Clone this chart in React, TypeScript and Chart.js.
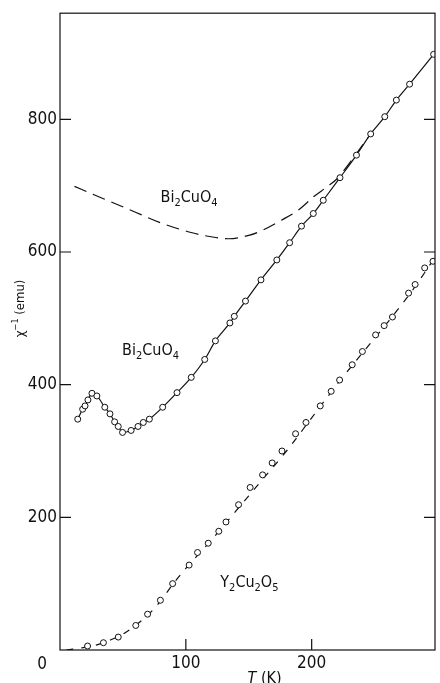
import React, { useEffect, useRef } from 'react';
import { Chart, registerables } from 'chart.js';

Chart.register(...registerables);

const FONT = '"DejaVu Sans Condensed", "Liberation Sans Narrow", "DejaVu Sans", sans-serif';

// Bi2CuO4 measured points (solid fit through them)
const biT = [14.1, 18, 19.9, 22.2, 25.4, 29.3, 35.6, 39.7, 43.4, 46.3, 49.7, 56.5, 62, 66.2, 71, 81.6, 93, 104.3, 115, 123.5, 135, 138.5, 147.4, 159.7, 172.3, 182.5, 191.9, 201.3, 209.2, 222.5, 235.6, 246.9, 258.1, 267.3, 277.8, 296.9];
const biChi = [348, 363, 368, 377, 387, 383, 366, 356, 344, 337, 328, 331, 337, 343, 348, 366, 388, 411, 438, 466, 493, 503, 526, 558, 588, 614, 639, 658, 678, 712, 746, 778, 804, 829, 853, 898];

// Bi2CuO4 dashed curve (upper)
const biDashT = [11.5, 25, 40, 60, 80, 105, 120, 134, 150, 160, 176, 190, 202, 212, 220, 230, 245];
const biDashChi = [699, 688, 676, 660, 644, 629, 623, 620, 625, 632, 648, 664, 684, 698, 710, 734, 773];

// Y2Cu2O5 measured points
const yT = [21.9, 34.5, 46.3, 60.2, 69.6, 79.8, 89.5, 102.6, 109.3, 117.8, 126.2, 131.9, 141.9, 151.1, 161, 168.6, 176.4, 187.2, 195.5, 206.8, 215.5, 222.2, 232.2, 240.3, 250.8, 257.6, 264.2, 277, 282.2, 289.8, 296.4];
const yChi = [6, 11, 19.5, 37, 54, 75, 100, 128, 147, 161, 179, 193, 219, 245, 264, 282, 300, 326, 343, 368, 390, 407, 430, 450, 475, 489, 502, 538, 551, 576, 586];

// Y2Cu2O5 dashed curve
const yLineT = [5, 20, 30, 40, 50, 60, 70, 80, 90, 100, 120, 140, 160, 180, 200, 220, 240, 260, 280, 298];
const yLineChi = [0, 4, 8, 15, 24, 37, 53, 74, 100, 123, 165, 210, 255, 300, 350, 400, 447, 493, 542, 592];

const yTicks = [200, 400, 600, 800];
const xTicks = [100, 200];
const xMin = 0;
const xMax = 298;
const yMin = 0;
const yMax = 960;

type Seg = { t: string; sub?: boolean; sup?: boolean; italic?: boolean };

function drawRich(ctx: CanvasRenderingContext2D, segs: Seg[], cx: number, cy: number, size: number) {
  const fontFor = (s: Seg) => `${s.italic ? 'italic ' : ''}${s.sub || s.sup ? Math.round(size * 0.7) : size}px ${FONT}`;
  let w = 0;
  for (const s of segs) { ctx.font = fontFor(s); w += ctx.measureText(s.t).width; }
  let x = cx - w / 2;
  const base = cy + size * 0.36;
  ctx.textAlign = 'left';
  ctx.textBaseline = 'alphabetic';
  for (const s of segs) {
    ctx.font = fontFor(s);
    const dy = s.sub ? size * 0.25 : s.sup ? -size * 0.4 : 0;
    ctx.fillText(s.t, x, base + dy);
    x += ctx.measureText(s.t).width;
  }
}

const overlay = {
  id: 'overlay',
  afterDraw(chart: any) {
    const { ctx, chartArea: a, scales } = chart;
    const xs = scales.x;
    const ys = scales.y;
    ctx.save();
    ctx.strokeStyle = '#111';
    ctx.fillStyle = '#111';
    ctx.lineWidth = 1.2;
    ctx.strokeRect(a.left, a.top, a.right - a.left, a.bottom - a.top);
    ctx.beginPath();
    for (const v of yTicks) {
      const p = ys.getPixelForValue(v);
      ctx.moveTo(a.left, p); ctx.lineTo(a.left + 11, p);
      ctx.moveTo(a.right, p); ctx.lineTo(a.right - 11, p);
    }
    for (const v of xTicks) {
      const p = xs.getPixelForValue(v);
      ctx.moveTo(p, a.bottom); ctx.lineTo(p, a.bottom - 11);
    }
    ctx.stroke();

    // zero label
    ctx.font = `17px ${FONT}`;
    ctx.textAlign = 'center';
    ctx.textBaseline = 'middle';
    ctx.fillText('0', a.left - 18, ys.getPixelForValue(0) + 15);

    // series labels
    drawRich(ctx, [{ t: 'Bi' }, { t: '2', sub: true }, { t: 'CuO' }, { t: '4', sub: true }], xs.getPixelForValue(102.6), ys.getPixelForValue(684), 16);
    drawRich(ctx, [{ t: 'Bi' }, { t: '2', sub: true }, { t: 'CuO' }, { t: '4', sub: true }], xs.getPixelForValue(72), ys.getPixelForValue(454), 16);
    drawRich(ctx, [{ t: 'Y' }, { t: '2', sub: true }, { t: 'Cu' }, { t: '2', sub: true }, { t: 'O' }, { t: '5', sub: true }], xs.getPixelForValue(150.5), ys.getPixelForValue(104), 16);

    // x title
    drawRich(ctx, [{ t: 'T', italic: true }, { t: ' (K)' }], xs.getPixelForValue(162.6), a.bottom + 27, 16);

    // y title
    ctx.save();
    ctx.translate(19, ys.getPixelForValue(515));
    ctx.rotate(-Math.PI / 2);
    drawRich(ctx, [{ t: 'χ' }, { t: '−1', sup: true }, { t: ' (emu)' }], 0, 0, 13);
    ctx.restore();
    ctx.restore();
  },
};

export default function App() {
  const ref = useRef<HTMLCanvasElement>(null);
  useEffect(() => {
    const pts = (xs: number[], ys: number[]) => xs.map((x, i) => ({ x, y: ys[i] }));
    const chart = new Chart(ref.current!, {
      type: 'scatter',
      data: {
        datasets: [
          {
            label: 'Y2Cu2O5 data',
            data: pts(yT, yChi),
            showLine: false,
            pointRadius: 3,
            pointBorderWidth: 1,
            pointBackgroundColor: '#fff',
            pointBorderColor: '#111',
          },
          {
            label: 'Bi2CuO4 data',
            data: pts(biT, biChi),
            showLine: true,
            borderColor: '#111',
            borderWidth: 1.2,
            cubicInterpolationMode: 'monotone',
            pointRadius: 3,
            pointBorderWidth: 1,
            pointBackgroundColor: '#fff',
            pointBorderColor: '#111',
          },
          {
            label: 'Y2Cu2O5 fit',
            data: pts(yLineT, yLineChi),
            showLine: true,
            borderColor: '#111',
            borderWidth: 1.2,
            borderDash: [7, 8],
            cubicInterpolationMode: 'monotone',
            pointRadius: 0,
          },
          {
            label: 'Bi2CuO4 dashed',
            data: pts(biDashT, biDashChi),
            showLine: true,
            borderColor: '#111',
            borderWidth: 1.2,
            borderDash: [13, 7],
            cubicInterpolationMode: 'monotone',
            pointRadius: 0,
          },
        ],
      },
      options: {
        responsive: false,
        animation: false,
        layout: { padding: { top: 12, right: 1, left: 0, bottom: 0 } },
        plugins: { legend: { display: false }, tooltip: { enabled: false } },
        scales: {
          x: {
            type: 'linear',
            min: xMin,
            max: xMax,
            afterBuildTicks: (s: any) => { s.ticks = xTicks.map((v) => ({ value: v })); },
            afterFit: (s: any) => { s.height = 33; },
            grid: { display: true, drawOnChartArea: false, drawTicks: false },
            border: { display: false },
            ticks: { padding: 3, color: '#111', font: { family: FONT, size: 17 }, maxRotation: 0 },
          },
          y: {
            type: 'linear',
            min: yMin,
            max: yMax,
            afterBuildTicks: (s: any) => { s.ticks = yTicks.map((v) => ({ value: v })); },
            afterFit: (s: any) => { s.width = 60; },
            grid: { display: true, drawOnChartArea: false, drawTicks: false },
            border: { display: false },
            ticks: { padding: 3, color: '#111', font: { family: FONT, size: 17 } },
          },
        },
      },
      plugins: [overlay],
    } as any);
    return () => chart.destroy();
  }, []);
  return (
    <div style={{ position: 'fixed', left: 0, top: 0, width: 440, height: 683, background: '#fff' }}>
      <canvas ref={ref} width={440} height={683} style={{ display: 'block' }} />
    </div>
  );
}
